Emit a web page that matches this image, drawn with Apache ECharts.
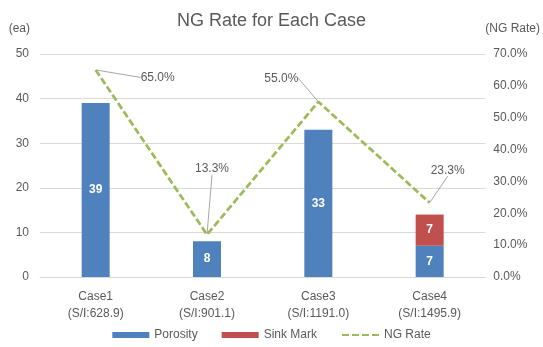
<!DOCTYPE html>
<html>
<head>
<meta charset="utf-8">
<script src="https://cdn.jsdelivr.net/npm/echarts@6/dist/echarts.min.js"></script>
<style>html,body{margin:0;padding:0;background:#fff}#c{width:543px;height:347px}</style>
</head>
<body>
<div id="c"></div>
<script>
const categories = ['Case1\n(S/I:628.9)', 'Case2\n(S/I:901.1)', 'Case3\n(S/I:1191.0)', 'Case4\n(S/I:1495.9)'];
const porosity = [39, 8, 33, 7];
const sinkMark = [null, null, null, 7];
const ngRate = [0.65, 0.133, 0.55, 0.233];
const leftTicks = [0, 10, 20, 30, 40, 50];
const rightTicks = [0, 0.1, 0.2, 0.3, 0.4, 0.5, 0.6, 0.7];

const labelShift = [[62, 19], [5, -54], [-37, -12], [18, -21]];
const FONT = 'Liberation Sans';
const GREY = '#595959';

const chart = echarts.init(document.getElementById('c'));
chart.setOption({
  animation: false,
  textStyle: { fontFamily: FONT },
  title: {
    text: 'NG Rate for Each Case', left: 'center', top: 7,
    textStyle: { fontSize: 18, fontWeight: 'normal', color: GREY, fontFamily: FONT }
  },
  legend: {
    bottom: 1, left: 'center', itemGap: 24, itemWidth: 37, itemHeight: 6,
    textStyle: { fontSize: 12, color: GREY },
    data: [{ name: 'Porosity', icon: 'rect' }, { name: 'Sink Mark', icon: 'rect' }, { name: 'NG Rate' }]
  },
  grid: { left: 40, right: 46, top: 54, bottom: 70 },
  xAxis: {
    type: 'category', data: categories,
    axisLine: { lineStyle: { color: '#d9d9d9' } },
    axisTick: { show: false },
    axisLabel: { color: GREY, fontSize: 12, lineHeight: 17, margin: 11 }
  },
  yAxis: [{
    type: 'value', min: leftTicks[0], max: leftTicks[leftTicks.length - 1], interval: 10,
    name: '(ea)', nameGap: 19,
    nameTextStyle: { color: GREY, fontSize: 12, align: 'right', padding: [0, 10, 0, 0] },
    axisLine: { show: false }, axisTick: { show: false },
    axisLabel: { color: GREY, fontSize: 12, margin: 11 },
    splitLine: { lineStyle: { color: '#d9d9d9' } }
  }, {
    type: 'value', min: rightTicks[0], max: rightTicks[rightTicks.length - 1], interval: 0.1,
    name: '(NG Rate)', nameGap: 19,
    nameTextStyle: { color: GREY, fontSize: 12, align: 'left', padding: [0, 0, 0, 0] },
    axisLine: { show: false }, axisTick: { show: false },
    axisLabel: { color: GREY, fontSize: 12, margin: 8, formatter: v => (v * 100).toFixed(1) + '%' },
    splitLine: { show: false }
  }],
  series: [{
    name: 'Porosity', type: 'bar', stack: 's', data: porosity, barWidth: 28,
    itemStyle: { color: '#4F81BD' },
    label: { show: true, position: 'inside', color: '#fff', fontWeight: 'bold', fontSize: 12 }
  }, {
    name: 'Sink Mark', type: 'bar', stack: 's', data: sinkMark, barWidth: 28,
    itemStyle: { color: '#C0504D' },
    label: { show: true, position: 'inside', color: '#fff', fontWeight: 'bold', fontSize: 12 }
  }, {
    name: 'NG Rate', type: 'line', yAxisIndex: 1, data: ngRate,
    symbol: 'circle', symbolSize: 1, showSymbol: true, z: 5,
    lineStyle: { color: '#9BBB59', width: 2.75, type: [7, 3] },
    itemStyle: { color: 'rgba(155,187,89,0)' },
    label: {
      show: true, position: 'top', distance: 5, color: GREY, fontSize: 12,
      formatter: p => (p.value * 100).toFixed(1) + '%'
    },
    labelLine: { show: true, lineStyle: { color: '#a6a6a6', width: 1 } },
    labelLayout: p => ({ dx: labelShift[p.dataIndex][0], dy: labelShift[p.dataIndex][1] })
  }]
});
</script>
</body>
</html>
